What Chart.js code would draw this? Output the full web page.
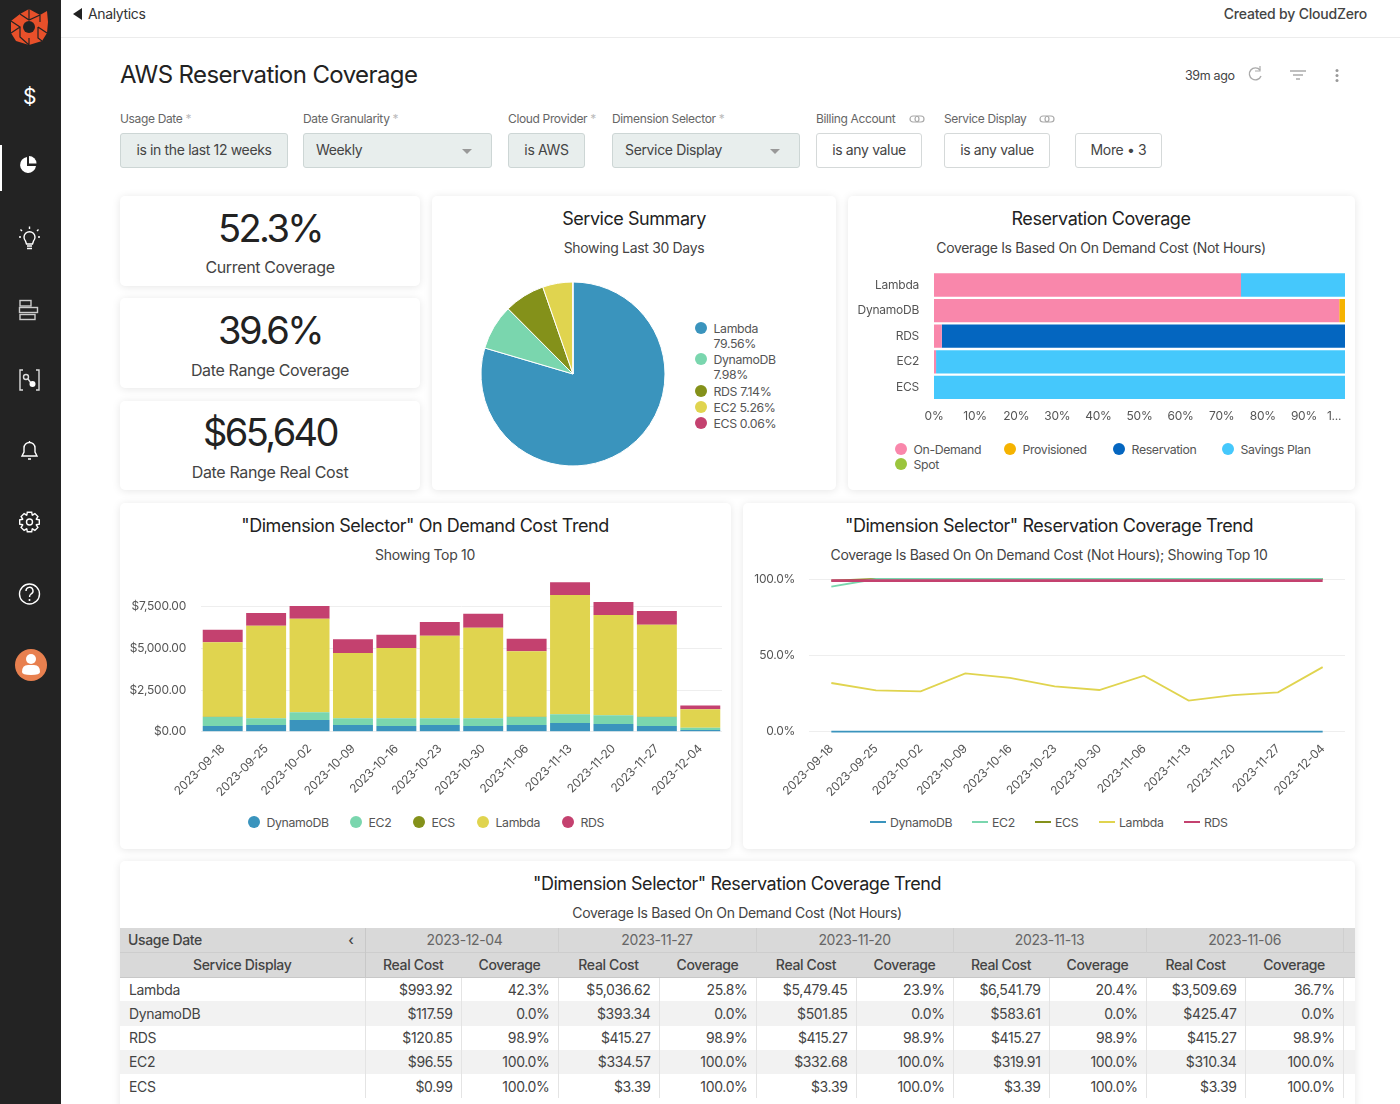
<!DOCTYPE html>
<html>
<head>
<meta charset="utf-8">
<title>AWS Reservation Coverage</title>
<script src="https://cdn.jsdelivr.net/npm/chart.js@4"></script>
<style>
  * { box-sizing: border-box; }
  html, body { margin: 0; padding: 0; background: #fff; width: 1400px; height: 1104px; overflow: hidden; }
  body { font-family: Inter, "Noto Sans", sans-serif; color: #333; letter-spacing: -0.35px; position: relative; }
  .abs { position: absolute; white-space: nowrap; }
  .mid { position: absolute; white-space: nowrap; transform: translate(-50%, -50%); }
  .card { position: absolute; background: #fff; border-radius: 5px; box-shadow: 0 1px 8px rgba(0,0,0,.10); }
  canvas { position: absolute; }
  #sidebar { position: absolute; left: 0; top: 0; width: 61px; height: 1104px; background: #232323; }
  #topline { position: absolute; left: 61px; right: 0; top: 37px; height: 1px; background: #ececec; }
  .flabel { position: absolute; top: 111px; font-size: 12px; color: #666; white-space: nowrap; }
  .fbox { position: absolute; top: 133px; height: 35px; border: 1px solid #d5d9d9; border-radius: 3px; font-size: 14px; line-height: 32px; color: #444; text-align: center; white-space: nowrap; }
  .fbox.on { background: #e8eeed; border-color: #cdd6d5; }
  .fbox.sel { text-align: left; padding-left: 12px; }
  .caret { position: absolute; right: 19px; top: 15px; width: 0; height: 0; border-left: 5px solid transparent; border-right: 5px solid transparent; border-top: 5px solid #999; }
  .kpi { font-size: 38px; color: #222; letter-spacing: -2.6px; }
  .kpisub { font-size: 16px; color: #444; letter-spacing: -0.35px; }
  .title { font-size: 18px; color: #222; letter-spacing: -0.45px; }
  .sub { font-size: 14px; color: #444; letter-spacing: -0.33px; }
  .leg { position: absolute; font-size: 12.3px; color: #555; white-space: nowrap; transform: translateY(-50%); }
  .dot { position: absolute; width: 12px; height: 12px; border-radius: 50%; transform: translate(-50%, -50%); }
  .swatch { position: absolute; width: 16px; height: 2px; transform: translateY(-50%); }
  #pivot { position: absolute; left: 120px; top: 928px; width: 1235px; border-collapse: collapse; table-layout: fixed; font-size: 14px; color: #444; }
  #pivot th { font-weight: 400; background: #d9d9d9; color: #666; padding: 0 8px; }
  #pivot thead tr:nth-child(2) th { color: #444; font-weight: 500; border-top: 1px solid #cdcdcd; border-bottom: 1px solid #c8c8c8; }
  #pivot td { text-align: right; padding: 0 8px; border-left: 1px solid #e4e4e4; }
  #pivot td:first-child { text-align: left; border-left: none; padding-left: 9px; }
  #pivot tr { height: 24.2px; }
  #pivot tbody tr:nth-child(even) td { background: #f2f2f2; }
</style>
</head>
<body>

<div id="sidebar">
  <svg width="61" height="700" viewBox="0 0 61 700" style="position:absolute;left:0;top:0">
    <g fill="#e8502a">
      <polygon points="29,9 40,15 47,11 48,22 47,33 42,41 29,45 16,41 11,33 11,21 20,14"/>
    </g>
    <circle cx="29" cy="27" r="6" fill="#232323"/>
    <g stroke="#232323" stroke-width="1.2" fill="none">
      <path d="M20 14 L29 20 L40 15 M29 20 V9 M11 21 L20 27 L11 33 M20 27 V37 L29 45 M29 38 V45 M38 27 L47 33 M38 27 V38 L42 41 M40 15 V22"/>
    </g>
    <text x="29.5" y="104" text-anchor="middle" font-size="21" fill="#fff" font-family="Inter">$</text>
    <rect x="0" y="145" width="2" height="46" fill="#fff"/>
    <path d="M27 157 A8 8 0 1 0 36 166 H27 Z" fill="#fff"/>
    <path d="M29 156 A7.500 7.500 0 0 1 36.500 163.500 H29 Z" fill="#fff"/>
    <g stroke="#fff" stroke-width="1.4" fill="none">
      <path d="M25.500 241 A5.500 5.500 0 1 1 33.500 241 L32.500 244 H26.500 Z"/>
      <path d="M27 246 H32 M27 248.500 H32 M22 231 L20.500 229.500 M37 231 L38.500 229.500 M29.500 229 V226.500 M21 237 H19 M38 237 H40"/>
      <g stroke="#ccc">
        <rect x="20" y="300.5" width="11" height="5.5"/>
        <rect x="19.5" y="307.5" width="18" height="5"/>
        <rect x="20" y="314.5" width="15" height="5"/>
      </g>
      <path d="M23 370 H20 V390 H23 M36 370 H39 V390 H36" stroke="#ddd"/>
      <circle cx="26" cy="377" r="2.5" stroke="#ddd"/>
      <path d="M28 379 L31 383" stroke="#ddd"/>
      <path d="M22 456 H37 L35 452 V448 A5.5 5.5 0 0 0 24 448 V452 Z M28 459 H31 M29.5 441 V443"/>
      <circle cx="29.5" cy="522" r="3"/>
      <path id="gearIcon"/>
      <circle cx="29.5" cy="594" r="10"/>
      <path d="M26 591 A3.5 3.5 0 1 1 31 594 Q29.5 595 29.5 597"/>
    </g>
    <circle cx="32.500" cy="384" r="3" fill="#fff"/>
    <circle cx="29.5" cy="600" r="1" fill="#fff"/>
    <circle cx="31" cy="665" r="16" fill="#e8804f"/>
    <circle cx="31" cy="659" r="5" fill="#fff"/>
    <path d="M22 672 Q22 665 28 665 H34 Q40 665 40 672 Q40 675 31 675 Q22 675 22 672 Z" fill="#fff"/>
  </svg>
</div>
<div id="topline"></div>
<div class="abs" style="left:73px;top:8px;width:0;height:0;border-top:6px solid transparent;border-bottom:6px solid transparent;border-right:9px solid #222"></div>
<div class="abs" style="left:88px;top:5px;font-size:14px;color:#333">Analytics</div>
<div class="abs" style="right:33px;top:5px;font-size:14px;font-weight:500;color:#444;letter-spacing:-0.2px">Created by CloudZero</div>

<div class="abs" style="left:120px;top:60px;font-size:24px;color:#222;letter-spacing:-0.6px">AWS Reservation Coverage</div>
<div class="abs" style="left:1185px;top:68px;font-size:12.5px;color:#444">39m ago</div>
<svg class="abs" style="left:1240px;top:62px" width="110" height="28" viewBox="0 0 110 28">
  <g fill="none" stroke="#aaa" stroke-width="1.4">
    <path d="M20 8 A6 6 0 1 0 21 14"/>
    <path d="M20 4 V9 H15" stroke-width="1.2"/>
    <path d="M50 9 H66 M53 13 H63 M56 17 H60"/>
  </g>
  <g fill="#999"><circle cx="97" cy="8.500" r="1.500"/><circle cx="97" cy="13.500" r="1.500"/><circle cx="97" cy="18.500" r="1.500"/></g>
</svg>

<div class="flabel" style="left:120px">Usage Date <span style="color:#bbb">*</span></div>
<div class="fbox on" style="left:120px;width:168px">is in the last 12 weeks</div>
<div class="flabel" style="left:303px">Date Granularity <span style="color:#bbb">*</span></div>
<div class="fbox on sel" style="left:303px;width:189px">Weekly<span class="caret"></span></div>
<div class="flabel" style="left:508px">Cloud Provider <span style="color:#bbb">*</span></div>
<div class="fbox on" style="left:508px;width:77px">is AWS</div>
<div class="flabel" style="left:612px">Dimension Selector <span style="color:#bbb">*</span></div>
<div class="fbox on sel" style="left:612px;width:188px">Service Display<span class="caret"></span></div>
<div class="flabel" style="left:816px">Billing Account</div>
<div class="fbox" style="left:816px;width:106px">is any value</div>
<div class="flabel" style="left:944px">Service Display</div>
<div class="fbox" style="left:944px;width:106px">is any value</div>
<div class="fbox" style="left:1075px;width:87px">More &bull; 3</div>
<svg class="abs" style="left:908px;top:113px" width="150" height="12" viewBox="0 0 150 12">
  <g fill="none" stroke="#aaa" stroke-width="1.2">
    <rect x="2" y="3" width="9" height="6" rx="3"/><rect x="7" y="3" width="9" height="6" rx="3"/>
    <rect x="132" y="3" width="9" height="6" rx="3"/><rect x="137" y="3" width="9" height="6" rx="3"/>
  </g>
</svg>

<div class="card" style="left:120px;top:196px;width:300px;height:90px"></div>
<div class="mid kpi" style="left:270px;top:228px">52.3%</div>
<div class="mid kpisub" style="left:270px;top:267px">Current Coverage</div>
<div class="card" style="left:120px;top:298px;width:300px;height:90px"></div>
<div class="mid kpi" style="left:270px;top:330px">39.6%</div>
<div class="mid kpisub" style="left:270px;top:370px">Date Range Coverage</div>
<div class="card" style="left:120px;top:401px;width:300px;height:89px"></div>
<div class="mid kpi" style="left:270px;top:432px">$65,640</div>
<div class="mid kpisub" style="left:270px;top:472px">Date Range Real Cost</div>

<div class="card" style="left:432px;top:196px;width:404px;height:294px"></div>
<div class="mid title" style="left:634px;top:218px">Service Summary</div>
<div class="mid sub" style="left:634px;top:247px">Showing Last 30 Days</div>
<canvas id="pieChart" width="200" height="200" style="left:473px;top:274px;width:200px;height:200px"></canvas>
<div id="pieLegend"></div>

<div class="card" style="left:848px;top:196px;width:507px;height:294px"></div>
<div class="mid title" style="left:1101px;top:218px">Reservation Coverage</div>
<div class="mid sub" style="left:1101px;top:247px">Coverage Is Based On On Demand Cost (Not Hours)</div>
<canvas id="coverageChart" width="507" height="170" style="left:848px;top:262px;width:507px;height:170px"></canvas>
<div id="coverageLegend"></div>

<div class="card" style="left:120px;top:503px;width:611px;height:346px"></div>
<div class="mid title" style="left:425px;top:525px">"Dimension Selector" On Demand Cost Trend</div>
<div class="mid sub" style="left:425px;top:554px">Showing Top 10</div>
<canvas id="costChart" width="611" height="228" style="left:120px;top:570px;width:611px;height:228px"></canvas>
<div id="costLegend"></div>

<div class="card" style="left:743px;top:503px;width:612px;height:346px"></div>
<div class="mid title" style="left:1049px;top:525px">"Dimension Selector" Reservation Coverage Trend</div>
<div class="mid sub" style="left:1049px;top:554px">Coverage Is Based On On Demand Cost (Not Hours); Showing Top 10</div>
<canvas id="trendChart" width="612" height="233" style="left:743px;top:565px;width:612px;height:233px"></canvas>
<div id="trendLegend"></div>

<div class="card" style="left:120px;top:861px;width:1235px;height:260px"></div>
<div class="mid title" style="left:737px;top:883px">"Dimension Selector" Reservation Coverage Trend</div>
<div class="mid sub" style="left:737px;top:912px">Coverage Is Based On On Demand Cost (Not Hours)</div>
<table id="pivot"></table>

<script>
// pie
const summaryNames = ["Lambda", "DynamoDB", "RDS", "EC2", "ECS"];
const summaryShare = [79.56, 7.98, 7.14, 5.26, 0.06];
const summaryColors = ["#3a94bd", "#7ad6ae", "#84911a", "#e0d44f", "#c4416f"];

// horizontal stacked coverage
const coverageServices = ["Lambda", "DynamoDB", "RDS", "EC2", "ECS"];
const coverageKinds = ["On-Demand", "Provisioned", "Reservation", "Savings Plan", "Spot"];
const coverageColors = ["#f987ab", "#f5b301", "#0466c0", "#45c8fc", "#9bc53d"];
const onDemandPct = [74.7, 98.6, 1.9, 0.5, 0];
const provisionedPct = [0, 1.4, 0, 0, 0];
const reservationPct = [0, 0, 98.1, 0, 0];
const savingsPct = [25.3, 0, 0, 99.5, 100];
const spotPct = [0, 0, 0, 0, 0];
const coverageTicks = [0, 10, 20, 30, 40, 50, 60, 70, 80, 90, 100];

// weekly series
const weeks = ["2023-09-18", "2023-09-25", "2023-10-02", "2023-10-09", "2023-10-16", "2023-10-23", "2023-10-30", "2023-11-06", "2023-11-13", "2023-11-20", "2023-11-27", "2023-12-04"];
const trendNames = ["DynamoDB", "EC2", "ECS", "Lambda", "RDS"];
const trendColors = ["#3a94bd", "#7ad6ae", "#84911a", "#e0d44f", "#c4416f"];

const dynamoCost = [340, 400, 700, 400, 340, 400, 340, 400, 520, 460, 340, 100];
const ec2Cost = [540, 400, 460, 400, 460, 400, 460, 480, 520, 520, 540, 130];
const ecsCost = [10, 10, 10, 10, 10, 10, 10, 10, 10, 10, 10, 3];
const lambdaCost = [4470, 5550, 5610, 3910, 4210, 4950, 5430, 3930, 7150, 6010, 5530, 1117];
const rdsCost = [760, 760, 760, 820, 800, 820, 840, 760, 760, 780, 820, 220];
const costTicks = [0, 2500, 5000, 7500];

const dynamoCover = [0, 0, 0, 0, 0, 0, 0, 0, 0, 0, 0, 0];
const ec2Cover = [95, 100, 100, 100, 100, 100, 100, 100, 100, 100, 100, 100];
const ecsCover = [99, 100, 100, 100, 100, 100, 100, 100, 100, 100, 100, 100];
const lambdaCover = [31.9, 27, 26.4, 38.2, 35.2, 29.7, 27.3, 36.7, 20.4, 23.9, 25.8, 42.3];
const rdsCover = [98.9, 98.9, 98.9, 98.9, 98.9, 98.9, 98.9, 98.9, 98.9, 98.9, 98.9, 98.9];

// table
const tableDates = ["2023-12-04", "2023-11-27", "2023-11-20", "2023-11-13", "2023-11-06"];
const tableServices = ["Lambda", "DynamoDB", "RDS", "EC2", "ECS"];
const lambdaRow = ["$993.92", "42.3%", "$5,036.62", "25.8%", "$5,479.45", "23.9%", "$6,541.79", "20.4%", "$3,509.69", "36.7%"];
const dynamoRow = ["$117.59", "0.0%", "$393.34", "0.0%", "$501.85", "0.0%", "$583.61", "0.0%", "$425.47", "0.0%"];
const rdsRow = ["$120.85", "98.9%", "$415.27", "98.9%", "$415.27", "98.9%", "$415.27", "98.9%", "$415.27", "98.9%"];
const ec2Row = ["$96.55", "100.0%", "$334.57", "100.0%", "$332.68", "100.0%", "$319.91", "100.0%", "$310.34", "100.0%"];
const ecsRow = ["$0.99", "100.0%", "$3.39", "100.0%", "$3.39", "100.0%", "$3.39", "100.0%", "$3.39", "100.0%"];

const FONT = "Inter, 'Noto Sans', sans-serif";
Chart.defaults.font.family = FONT;
Chart.defaults.font.size = 12;
Chart.defaults.color = "#555";
Chart.defaults.animation = false;
Chart.defaults.responsive = false;

// tighter canvas text, same tracking as the html labels
Chart.register({
    id: "tightText",
    beforeUpdate: chart => { chart.ctx.letterSpacing = "-0.25px"; },
    beforeDraw: chart => { chart.ctx.letterSpacing = "-0.25px"; }
});

// gear outline for the sidebar
function gearPath(cx, cy) {
    let d = "";
    for (let i = 0; i < 8; i++) {
        const a = i * Math.PI / 4;
        [[7.4, -0.38], [10, -0.22], [10, 0.22], [7.4, 0.38]].forEach(([r, da]) => {
            d += (d ? "L" : "M") + (cx + r * Math.sin(a + da)).toFixed(1) + " " + (cy - r * Math.cos(a + da)).toFixed(1) + " ";
        });
    }
    return d + "Z";
}
document.getElementById("gearIcon").setAttribute("d", gearPath(29.5, 522));

function addLegendItem(parent, color, text, x, y) {
    if (color) {
        const dot = document.createElement("div");
        dot.className = "dot";
        dot.style.cssText = `left:${x}px;top:${y}px;background:${color}`;
        parent.appendChild(dot);
    }
    const label = document.createElement("div");
    label.className = "leg";
    label.style.cssText = `left:${x + 12.5}px;top:${y}px`;
    label.innerText = text;
    parent.appendChild(label);
}

function addLineLegendItem(parent, color, text, x, y) {
    const line = document.createElement("div");
    line.className = "swatch";
    line.style.cssText = `left:${x}px;top:${y}px;background:${color}`;
    parent.appendChild(line);
    const label = document.createElement("div");
    label.className = "leg";
    label.style.cssText = `left:${x + 20}px;top:${y}px`;
    label.innerText = text;
    parent.appendChild(label);
}

new Chart(document.getElementById("pieChart"), {
    type: "pie",
    data: {
        labels: summaryNames,
        datasets: [{
            data: summaryShare,
            backgroundColor: summaryColors,
            borderColor: "#fff",
            borderWidth: 1,
            radius: 92
        }]
    },
    options: {
        plugins: { legend: { display: false }, tooltip: { enabled: false } }
    }
});

const pieLegend = document.getElementById("pieLegend");
addLegendItem(pieLegend, summaryColors[0], summaryNames[0], 701, 328);
addLegendItem(pieLegend, null, summaryShare[0] + "%", 701, 343);
addLegendItem(pieLegend, summaryColors[1], summaryNames[1], 701, 359);
addLegendItem(pieLegend, null, summaryShare[1] + "%", 701, 374);
addLegendItem(pieLegend, summaryColors[2], summaryNames[2] + " " + summaryShare[2] + "%", 701, 391);
addLegendItem(pieLegend, summaryColors[3], summaryNames[3] + " " + summaryShare[3] + "%", 701, 407);
addLegendItem(pieLegend, summaryColors[4], summaryNames[4] + " " + summaryShare[4] + "%", 701, 423);

const coverageSeries = [onDemandPct, provisionedPct, reservationPct, savingsPct, spotPct];

new Chart(document.getElementById("coverageChart"), {
    type: "bar",
    data: {
        labels: coverageServices,
        datasets: coverageKinds.map((name, i) => ({
            label: name,
            data: coverageSeries[i],
            backgroundColor: coverageColors[i],
            barPercentage: 0.91,
            categoryPercentage: 1
        }))
    },
    options: {
        indexAxis: "y",
        layout: { padding: { top: 10.2, right: 10, bottom: 0 } },
        plugins: { legend: { display: false }, tooltip: { enabled: false } },
        scales: {
            x: {
                stacked: true,
                min: 0,
                max: 100,
                afterFit: s => { s.height = 31.8; s.paddingLeft = 0; s.paddingRight = 0; },
                afterBuildTicks: s => { s.ticks = coverageTicks.map(v => ({ value: v })); },
                grid: { display: false },
                border: { display: false },
                ticks: {
                    autoSkip: false,
                    maxRotation: 0,
                    padding: 1,
                    callback: v => v === 100 ? "1..." + "\u00a0".repeat(7) : v + "%"
                }
            },
            y: {
                stacked: true,
                afterFit: s => { s.width = 86; s.paddingTop = 0; s.paddingBottom = 0; },
                grid: { display: false },
                border: { display: false },
                ticks: { padding: 7 }
            }
        }
    }
});

const coverageLegend = document.getElementById("coverageLegend");
addLegendItem(coverageLegend, coverageColors[0], coverageKinds[0], 901, 449);
addLegendItem(coverageLegend, coverageColors[1], coverageKinds[1], 1010, 449);
addLegendItem(coverageLegend, coverageColors[2], coverageKinds[2], 1119, 449);
addLegendItem(coverageLegend, coverageColors[3], coverageKinds[3], 1228, 449);
addLegendItem(coverageLegend, coverageColors[4], coverageKinds[4], 901, 464);

const costSeries = [dynamoCost, ec2Cost, ecsCost, lambdaCost, rdsCost];

new Chart(document.getElementById("costChart"), {
    type: "bar",
    data: {
        labels: weeks,
        datasets: trendNames.map((name, i) => ({
            label: name,
            data: costSeries[i],
            backgroundColor: trendColors[i],
            barPercentage: 0.92,
            categoryPercentage: 1
        }))
    },
    options: {
        layout: { padding: { top: 11.7, right: 9, bottom: 0 } },
        plugins: { legend: { display: false }, tooltip: { enabled: false } },
        scales: {
            x: {
                stacked: true,
                afterFit: s => { s.height = 66.3; s.paddingLeft = 0; s.paddingRight = 0; },
                grid: { display: false },
                border: { display: false },
                ticks: { autoSkip: false, minRotation: 45, maxRotation: 45, padding: 2 }
            },
            y: {
                stacked: true,
                min: 0,
                max: 9000,
                afterFit: s => { s.width = 81; s.paddingTop = 0; s.paddingBottom = 0; },
                afterBuildTicks: s => { s.ticks = costTicks.map(v => ({ value: v })); },
                grid: { color: "#eeeeee", drawTicks: false },
                border: { display: false },
                ticks: {
                    padding: 15,
                    callback: v => "$" + v.toLocaleString("en-US", { minimumFractionDigits: 2 })
                }
            }
        }
    }
});

const costLegend = document.getElementById("costLegend");
[254, 356, 419, 483, 568].forEach((x, i) => addLegendItem(costLegend, trendColors[i], trendNames[i], x, 822));

const coverSeries = [dynamoCover, ec2Cover, ecsCover, lambdaCover, rdsCover];
const drawOrder = [4, 1, 2, 3, 0];

new Chart(document.getElementById("trendChart"), {
    type: "line",
    data: {
        labels: weeks,
        datasets: trendNames.map((name, i) => ({
            label: name,
            data: coverSeries[i],
            borderColor: trendColors[i],
            backgroundColor: trendColors[i],
            borderWidth: name === "RDS" ? 2.8 : 1.8,
            order: drawOrder[i],
            pointRadius: 0,
            tension: 0,
            clip: false
        }))
    },
    options: {
        layout: { padding: { top: 14, right: 10, bottom: 0 } },
        plugins: { legend: { display: false }, tooltip: { enabled: false } },
        scales: {
            x: {
                offset: true,
                afterFit: s => { s.height = 66.3; s.paddingLeft = 0; s.paddingRight = 0; },
                grid: { display: false },
                border: { display: false },
                ticks: { autoSkip: false, minRotation: 45, maxRotation: 45, padding: 2 }
            },
            y: {
                min: 0,
                max: 100,
                afterFit: s => { s.width = 66; s.paddingTop = 0; s.paddingBottom = 0; },
                grid: { color: "#eeeeee", drawTicks: false },
                border: { display: false },
                ticks: {
                    stepSize: 50,
                    padding: 14,
                    callback: v => v.toFixed(1) + "%"
                }
            }
        }
    }
});

const trendLegend = document.getElementById("trendLegend");
[870, 972, 1035, 1099, 1184].forEach((x, i) => addLineLegendItem(trendLegend, trendColors[i], trendNames[i], x, 822));

// pivot table
const columnWidths = [245, 96, 97, 101, 97, 100, 97, 96, 97, 99, 98, 12];
const tableRows = [lambdaRow, dynamoRow, rdsRow, ec2Row, ecsRow];

let tableHtml = "<colgroup>" + columnWidths.map(w => `<col style="width:${w}px">`).join("") + "</colgroup>";
tableHtml += `<thead><tr><th style="text-align:left;color:#444;font-weight:500;height:24px;border-right:1px solid #c8c8c8">Usage Date<span style="float:right;padding-right:3px">&lsaquo;</span></th>`;
tableDates.forEach((d, i) => { tableHtml += `<th colspan="2" style="border-right:1px solid #cfcfcf;padding-left:${i === 0 ? 14 : 8}px">${d}</th>`; });
tableHtml += `<th></th></tr><tr><th style="height:25px;border-right:1px solid #c8c8c8">Service Display</th>`;
tableDates.forEach(() => { tableHtml += `<th>Real Cost</th><th>Coverage</th>`; });
tableHtml += `<th></th></tr></thead><tbody>`;
tableServices.forEach((s, i) => {
    tableHtml += `<tr><td>${s}</td>` + tableRows[i].map(v => `<td>${v}</td>`).join("") + `<td></td></tr>`;
});
tableHtml += "</tbody>";
document.getElementById("pivot").innerHTML = tableHtml;
</script>
</body>
</html>
